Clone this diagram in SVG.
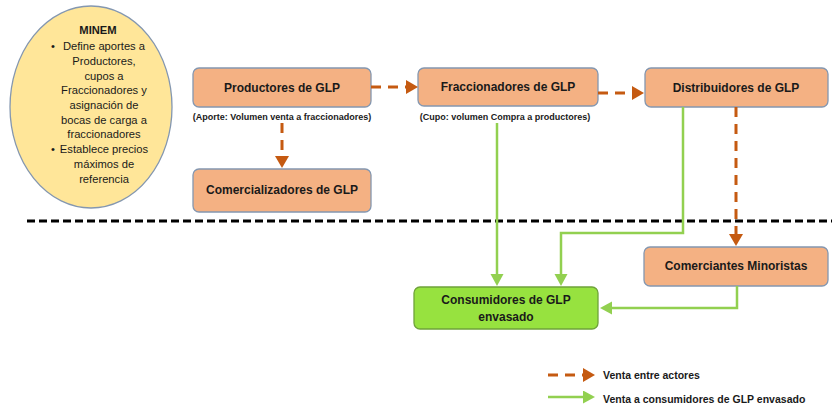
<svg xmlns="http://www.w3.org/2000/svg" width="832" height="408" viewBox="0 0 832 408">
<style>
text{font-family:"Liberation Sans",Arial,sans-serif;fill:#1a1a1a}
.box{fill:#F4B183;stroke:#8497B0;stroke-width:1.3}
.lbl{font-size:12px;font-weight:bold;text-anchor:middle;dominant-baseline:central}
.sub{font-size:9px;font-weight:bold;text-anchor:middle;dominant-baseline:central}
.el{font-size:11.2px;text-anchor:middle;dominant-baseline:central}
.org{fill:none;stroke:#C55A11;stroke-width:3;stroke-dasharray:10 7}
.grn{fill:none;stroke:#92D050;stroke-width:2.5}
.leg{font-size:10.5px;font-weight:bold;dominant-baseline:central}
</style>
<defs>
<marker id="ao" markerUnits="userSpaceOnUse" markerWidth="13" markerHeight="15" refX="0" refY="7" orient="auto"><path d="M0,0 L12,7 L0,14 z" fill="#C55A11"/></marker>
<marker id="ag" markerUnits="userSpaceOnUse" markerWidth="13" markerHeight="14" refX="0" refY="6.5" orient="auto"><path d="M0,0 L12,6.5 L0,13 z" fill="#92D050"/></marker>
</defs>
<g id="minem">
<ellipse cx="91" cy="107" rx="81" ry="101" fill="#FFE699" stroke="#8497B0" stroke-width="1.3"/>
<text class="el" x="98" y="30" font-weight="bold">MINEM</text>
<text class="el" x="53" y="46">•</text>
<text class="el" x="104" y="46">Define aportes a</text>
<text class="el" x="104" y="61">Productores,</text>
<text class="el" x="104" y="76">cupos a</text>
<text class="el" x="104" y="90">Fraccionadores y</text>
<text class="el" x="104" y="105">asignación de</text>
<text class="el" x="104" y="120">bocas de carga a</text>
<text class="el" x="104" y="134">fraccionadores</text>
<text class="el" x="53" y="149">•</text>
<text class="el" x="104" y="149">Establece precios</text>
<text class="el" x="104" y="164">máximos de</text>
<text class="el" x="104" y="179">referencia</text>
</g>
<g id="productores">
<rect class="box" x="193" y="68" width="178" height="39" rx="6"/>
<text class="lbl" x="282" y="88">Productores de GLP</text>
<text class="sub" x="282" y="117">(Aporte: Volumen venta a fraccionadores)</text>
</g>
<g id="comercializadores">
<rect class="box" x="193" y="169" width="178" height="43" rx="6"/>
<text class="lbl" x="282" y="190">Comercializadores de GLP</text>
</g>
<g id="fraccionadores">
<rect class="box" x="418" y="68" width="180" height="38" rx="6"/>
<text class="lbl" x="508" y="87">Fraccionadores de GLP</text>
<text class="sub" x="505" y="117">(Cupo: volumen Compra a productores)</text>
</g>
<g id="distribuidores">
<rect class="box" x="645" y="68" width="183" height="39" rx="6"/>
<text class="lbl" x="736" y="88">Distribuidores de GLP</text>
</g>
<g id="comerciantes">
<rect class="box" x="644" y="247" width="184" height="39" rx="6"/>
<text class="lbl" x="736" y="266">Comerciantes Minoristas</text>
</g>
<g id="consumidores">
<rect x="414" y="287" width="184" height="42" rx="6" fill="#97E23F" stroke="#6FA33A" stroke-width="1.3"/>
<text class="lbl" x="506" y="300">Consumidores de GLP</text>
<text class="lbl" x="506" y="317">envasado</text>
</g>
<g id="connectors">
<line x1="27" y1="221" x2="832" y2="221" stroke="#000" stroke-width="3" stroke-dasharray="8 4"/>
<path class="org" d="M371,87 H406" marker-end="url(#ao)"/>
<path class="org" d="M598,93 H632" marker-end="url(#ao)"/>
<path class="org" d="M282,123 V156" marker-end="url(#ao)"/>
<path class="org" d="M736,107 V234" marker-end="url(#ao)"/>
<path class="grn" d="M497,123 V274" marker-end="url(#ag)"/>
<path class="grn" d="M683,107 V233 H561 V274" marker-end="url(#ag)"/>
<path class="grn" d="M737,286 V308 H612" marker-end="url(#ag)"/>
</g>
<g id="legend">
<path class="org" d="M548,375 H583" marker-end="url(#ao)"/>
<text class="leg" x="603" y="375">Venta entre actores</text>
<path class="grn" d="M548,397 H583" marker-end="url(#ag)"/>
<text class="leg" x="603" y="399">Venta a consumidores de GLP envasado</text>
</g>
</svg>
